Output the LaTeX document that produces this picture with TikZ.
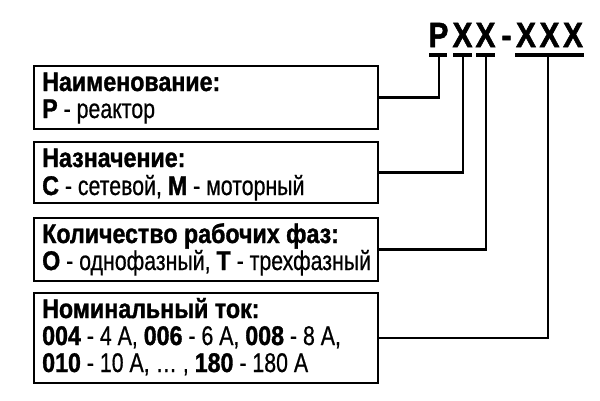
\documentclass[tikz,border=0pt]{standalone}
\usepackage{fontspec}
\setmainfont{Liberation Sans}[UprightFeatures={FakeStretch=0.79,FakeBold=0.6},BoldFeatures={FakeStretch=0.86,FakeBold=1.2}]
\newfontfamily\codefont{Liberation Sans}[UprightFont={* Bold},FakeStretch=0.85,FakeBold=1.5]
\begin{document}
\begin{tikzpicture}[x=1pt,y=-1pt,
  frame/.style={draw=black,line width=2.8pt,minimum width=344pt,anchor=north west,inner sep=0pt,outer sep=0pt},
  txt/.style={anchor=base west,inner sep=0pt,font=\fontsize{27}{27}\selectfont},
  code/.style={anchor=base,inner sep=0pt,font=\fontsize{35}{35}\codefont},
  wire/.style={line width=2.8pt,line cap=rect},
  uline/.style={line width=3.2pt}]
\useasboundingbox (0,0) rectangle (600,400);
\fill[white] (0,0) rectangle (600,400);
% code letters
\node[code] (cp) at (438.5,47) {Р};
\node[code] (cx1) at (462.5,47) {Х};
\node[code] (cx2) at (485.5,47) {Х};
\node[code] (cd) at (506.5,47) {-};
\node[code] (cx3a) at (526,47) {Х};
\node[code] (cx3b) at (549.5,47) {Х};
\node[code] (cx3c) at (573,47) {Х};
% underline tap points
\coordinate (t1) at (439,55);
\coordinate (t2) at (463,55);
\coordinate (t3) at (486,55);
\coordinate (t4) at (548,55);
\draw[uline] (429,55) -- (447,55);
\draw[uline] (453,55) -- (472,55);
\draw[uline] (476,55) -- (495,55);
\draw[uline] (515,55) -- (584,55);
% boxes
\node[frame,minimum height=63pt] (b1) at (34,66) {};
\node[frame,minimum height=61pt] (b2) at (34,142) {};
\node[frame,minimum height=63pt] (b3) at (34,218) {};
\node[frame,minimum height=90pt] (b4) at (34,293) {};
% texts
\node[txt] (l11) at (42,91) {\textbf{Наименование:}};
\node[txt] (l12) at (42,118) {\textbf{Р} - реактор};
\node[txt] (l21) at (42,167) {\textbf{Назначение:}};
\node[txt] (l22) at (42,195) {\textbf{С} - сетевой, \textbf{М} - моторный};
\node[txt] (l31) at (42,243) {\textbf{Количество рабочих фаз:}};
\node[txt] (l32) at (42,270) {\textbf{О} - однофазный, \textbf{Т} - трехфазный};
\node[txt] (l41) at (42,318) {\textbf{Номинальный ток:}};
\node[txt] (l42) at (42,345) {\textbf{004} - 4 А, \textbf{006} - 6 А, \textbf{008} - 8 А,};
\node[txt] (l43) at (42,372) {\textbf{010} - 10 А, \dots\ , \textbf{180} - 180 А};
% connectors
\draw[wire] (b1.east) -| (t1);
\draw[wire] (b2.east) -| (t2);
\draw[wire] (b3.east) -| (t3);
\draw[wire] (b4.east) -| (t4);
\end{tikzpicture}
\end{document}
